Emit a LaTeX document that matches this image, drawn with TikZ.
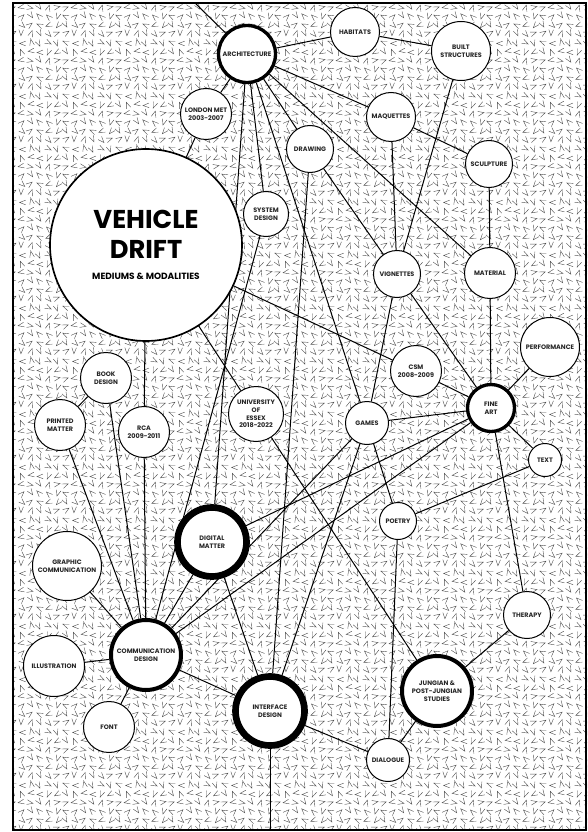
\documentclass[tikz,border=0pt]{standalone}
\usepackage{fontspec}
\setmainfont{Poppins}
\usetikzlibrary{patterns}
\pgfdeclarelayer{back}
\pgfdeclarelayer{edges}
\pgfsetlayers{back,edges,main}
\newcommand\bubfont{\fontsize{5.5}{6.6}\selectfont\bfseries}

\pgfdeclarepatternformonly{chevrons}{\pgfpointorigin}{\pgfpoint{45pt}{45pt}}{\pgfpoint{45pt}{45pt}}{%
  \pgfsetlinewidth{0.35pt}%
  \pgfmathsetseed{11}%
  \foreach \i in {0,...,5}{\foreach \j in {0,...,5}{%
    \pgfmathrandominteger{\ang}{0}{359}%
    \pgfmathrandominteger{\dx}{0}{16}%
    \pgfmathrandominteger{\dy}{0}{16}%
    \pgfmathsetmacro{\px}{\i*7.5+2.95+\dx*0.1}%
    \pgfmathsetmacro{\py}{\j*7.5+2.95+\dy*0.1}%
    \begin{pgfscope}%
    \pgftransformshift{\pgfpoint{\px pt}{\py pt}}%
    \pgftransformrotate{\ang}%
    \pgfpathmoveto{\pgfpoint{-2pt}{2.6pt}}%
    \pgfpathlineto{\pgfpoint{0pt}{-2.6pt}}%
    \pgfpathlineto{\pgfpoint{2pt}{2.6pt}}%
    \pgfusepath{stroke}%
    \end{pgfscope}}}%
}

\begin{document}
\begin{tikzpicture}[x=0.3mm,y=-0.3mm,
  bub/.style={circle,draw,fill=white,line width=0.3mm,inner sep=0pt,
    minimum size=#1*0.3mm,align=center,font=\bubfont,text=black!85},
  ring/.style={line width=1mm},
  hub/.style={line width=1.2mm},
  core/.style={line width=2mm},
  link/.style={line width=0.3mm}]
\useasboundingbox (0,0) rectangle (587,832);
\begin{pgfonlayer}{back}
  \fill[pattern=chevrons,pattern color=black!70] (13,3) rectangle (587,830);
  \draw[line width=0.6mm] (13,3) rectangle (586,830);
\end{pgfonlayer}

  \node[bub=57,ring] (arch) at (247,54) {ARCHITECTURE};
  \node[bub=49] (hab) at (355,32) {HABITATS};
  \node[bub=59] (built) at (461,51) {BUILT\\STRUCTURES};
  \node[bub=51] (lmet) at (206,114) {LONDON MET\\2003-2007};
  \node[bub=49] (maq) at (391,117) {MAQUETTES};
  \node[bub=47] (draw) at (310,149) {DRAWING};
  \node[bub=47] (sculp) at (489,164) {SCULPTURE};
  \node[bub=192,line width=0.5mm,font={\fontsize{22}{25.6}\selectfont\bfseries},text=black]
    (vd) at (146,245)
    {VEHICLE\\DRIFT\\[-2.5mm]{\fontsize{7.7}{9}\selectfont MEDIUMS \& MODALITIES}};
  \node[bub=45] (sysd) at (266,214) {SYSTEM\\DESIGN};
  \node[bub=47] (vign) at (397,274) {VIGNETTES};
  \node[bub=51] (mat) at (490,273) {MATERIAL};
  \node[bub=59] (perf) at (550,347) {PERFORMANCE};
  \node[bub=51] (csm) at (416,371) {CSM\\2008-2009};
  \node[bub=47,ring] (fa) at (491,408) {FINE\\ART};
  \node[bub=43] (games) at (367,423) {GAMES};
  \node[bub=33] (text) at (545,460) {TEXT};
  \node[bub=37] (poetry) at (398,521) {POETRY};
  \node[bub=51] (book) at (106,378) {BOOK\\DESIGN};
  \node[bub=51] (pm) at (60,425) {PRINTED\\MATTER};
  \node[bub=51] (rca) at (144,432) {RCA\\2009-2011};
  \node[bub=55] (uoe) at (256,414) {UNIVERSITY\\OF\\ESSEX\\2018-2022};
  \node[bub=69,core] (dm) at (212,542) {DIGITAL\\MATTER};
  \node[bub=69] (gc) at (67,566) {GRAPHIC\\COMMUNICATION};
  \node[bub=70,hub] (cd) at (146,655) {COMMUNICATION\\DESIGN};
  \node[bub=61] (ill) at (54,666) {ILLUSTRATION};
  \node[bub=51] (font) at (109,727) {FONT};
  \node[bub=69,core] (idsg) at (270,711) {INTERFACE\\DESIGN};
  \node[bub=70,hub] (jung) at (437,691) {JUNGIAN \&\\POST-JUNGIAN\\STUDIES};
  \node[bub=47] (ther) at (527,615) {THERAPY};
  \node[bub=43] (dia) at (388,760) {DIALOGUE};
  \coordinate (topend) at (195,3);
  \coordinate (botend) at (270,830);

\begin{pgfonlayer}{edges}
  \draw[link] (arch) -- (topend);
  \draw[link] (arch) -- (hab);
  \draw[link] (hab) -- (built);
  \draw[link] (arch) -- (lmet);
  \draw[link] (lmet) -- (vd);
  \draw[link] (arch) -- (maq);
  \draw[link] (arch) -- (draw);
  \draw[link] (arch) -- (mat);
  \draw[link] (arch) -- (sysd);
  \draw[link] (arch) -- (dm);
  \draw[link] (arch) -- (games);
  \draw[link] (maq) -- (sculp);
  \draw[link] (maq) -- (vign);
  \draw[link] (built) -- (vign);
  \draw[link] (draw) -- (vign);
  \draw[link] (draw) -- (idsg);
  \draw[link] (sculp) -- (mat);
  \draw[link] (mat) -- (fa);
  \draw[link] (vign) -- (games);
  \draw[link] (vign) -- (fa);
  \draw[link] (vd) -- (csm);
  \draw[link] (vd) -- (uoe);
  \draw[link] (vd) -- (rca);
  \draw[link] (csm) -- (fa);
  \draw[link] (perf) -- (fa);
  \draw[link] (fa) -- (text);
  \draw[link] (fa) -- (games);
  \draw[link] (fa) -- (ther);
  \draw[link] (fa) -- (dm);
  \draw[link] (fa) -- (cd);
  \draw[link] (games) -- (poetry);
  \draw[link] (games) -- (idsg);
  \draw[link] (games) -- (cd);
  \draw[link] (poetry) -- (text);
  \draw[link] (poetry) -- (dia);
  \draw[link] (book) -- (pm);
  \draw[link] (book) -- (cd);
  \draw[link] (pm) -- (cd);
  \draw[link] (rca) -- (cd);
  \draw[link] (gc) -- (cd);
  \draw[link] (ill) -- (cd);
  \draw[link] (font) -- (cd);
  \draw[link] (sysd) -- (cd);
  \draw[link] (dm) -- (cd);
  \draw[link] (dm) -- (idsg);
  \draw[link] (cd) -- (idsg);
  \draw[link] (uoe) -- (jung);
  \draw[link] (jung) -- (ther);
  \draw[link] (jung) -- (dia);
  \draw[link] (idsg) -- (dia);
  \draw[link] (idsg) -- (botend);
\end{pgfonlayer}
\end{tikzpicture}
\end{document}
